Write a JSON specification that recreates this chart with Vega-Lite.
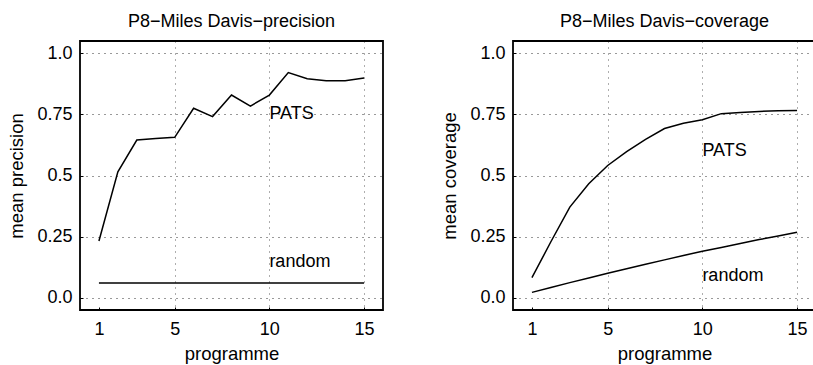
{
  "$schema": "https://vega.github.io/schema/vega-lite/v6.json",
  "padding": {"left": 7, "top": 12, "right": 0, "bottom": 2},
  "background": "white",
  "bounds": "flush",
  "spacing": 130,
  "config": {
    "font": "Liberation Sans",
    "view": {"stroke": "black", "strokeWidth": 1.8},
    "axis": {
      "labelFont": "Liberation Sans", "labelFontSize": 18, "labelColor": "black",
      "titleFont": "Liberation Sans", "titleFontSize": 18.5, "titleFontWeight": "normal", "titleColor": "black",
      "domain": false, "ticks": true, "tickSize": -3, "tickColor": "black", "tickWidth": 1,
      "grid": true, "gridDash": [1, 5], "gridColor": "black", "gridWidth": 1, "gridOpacity": 0.8
    },
    "title": {"font": "Liberation Sans", "fontSize": 18, "fontWeight": "normal", "color": "black", "offset": 10}
  },
  "datasets": {
    "prec": [
      {"programme": 1, "value": 0.232, "series": "PATS"},
      {"programme": 2, "value": 0.515, "series": "PATS"},
      {"programme": 3, "value": 0.645, "series": "PATS"},
      {"programme": 4, "value": 0.651, "series": "PATS"},
      {"programme": 5, "value": 0.656, "series": "PATS"},
      {"programme": 6, "value": 0.775, "series": "PATS"},
      {"programme": 7, "value": 0.741, "series": "PATS"},
      {"programme": 8, "value": 0.829, "series": "PATS"},
      {"programme": 9, "value": 0.784, "series": "PATS"},
      {"programme": 10, "value": 0.829, "series": "PATS"},
      {"programme": 11, "value": 0.921, "series": "PATS"},
      {"programme": 12, "value": 0.896, "series": "PATS"},
      {"programme": 13, "value": 0.887, "series": "PATS"},
      {"programme": 14, "value": 0.887, "series": "PATS"},
      {"programme": 15, "value": 0.899, "series": "PATS"},
      {"programme": 1, "value": 0.06, "series": "random"},
      {"programme": 2, "value": 0.06, "series": "random"},
      {"programme": 3, "value": 0.06, "series": "random"},
      {"programme": 4, "value": 0.06, "series": "random"},
      {"programme": 5, "value": 0.06, "series": "random"},
      {"programme": 6, "value": 0.06, "series": "random"},
      {"programme": 7, "value": 0.06, "series": "random"},
      {"programme": 8, "value": 0.06, "series": "random"},
      {"programme": 9, "value": 0.06, "series": "random"},
      {"programme": 10, "value": 0.06, "series": "random"},
      {"programme": 11, "value": 0.06, "series": "random"},
      {"programme": 12, "value": 0.06, "series": "random"},
      {"programme": 13, "value": 0.06, "series": "random"},
      {"programme": 14, "value": 0.06, "series": "random"},
      {"programme": 15, "value": 0.06, "series": "random"}
    ],
    "cov": [
      {"programme": 1, "value": 0.082, "series": "PATS"},
      {"programme": 2, "value": 0.229, "series": "PATS"},
      {"programme": 3, "value": 0.371, "series": "PATS"},
      {"programme": 4, "value": 0.466, "series": "PATS"},
      {"programme": 5, "value": 0.541, "series": "PATS"},
      {"programme": 6, "value": 0.598, "series": "PATS"},
      {"programme": 7, "value": 0.648, "series": "PATS"},
      {"programme": 8, "value": 0.692, "series": "PATS"},
      {"programme": 9, "value": 0.714, "series": "PATS"},
      {"programme": 10, "value": 0.728, "series": "PATS"},
      {"programme": 11, "value": 0.753, "series": "PATS"},
      {"programme": 12, "value": 0.758, "series": "PATS"},
      {"programme": 13, "value": 0.762, "series": "PATS"},
      {"programme": 14, "value": 0.765, "series": "PATS"},
      {"programme": 15, "value": 0.766, "series": "PATS"},
      {"programme": 1, "value": 0.022, "series": "random"},
      {"programme": 2, "value": 0.042, "series": "random"},
      {"programme": 3, "value": 0.062, "series": "random"},
      {"programme": 4, "value": 0.081, "series": "random"},
      {"programme": 5, "value": 0.100, "series": "random"},
      {"programme": 6, "value": 0.119, "series": "random"},
      {"programme": 7, "value": 0.137, "series": "random"},
      {"programme": 8, "value": 0.155, "series": "random"},
      {"programme": 9, "value": 0.173, "series": "random"},
      {"programme": 10, "value": 0.190, "series": "random"},
      {"programme": 11, "value": 0.206, "series": "random"},
      {"programme": 12, "value": 0.222, "series": "random"},
      {"programme": 13, "value": 0.238, "series": "random"},
      {"programme": 14, "value": 0.253, "series": "random"},
      {"programme": 15, "value": 0.268, "series": "random"}
    ],
    "precLabels": [
      {"programme": 10, "value": 0.75, "label": "PATS"},
      {"programme": 10, "value": 0.145, "label": "random"}
    ],
    "covLabels": [
      {"programme": 10, "value": 0.60, "label": "PATS"},
      {"programme": 10, "value": 0.09, "label": "random"}
    ]
  },
  "hconcat": [
    {
      "title": "P8−Miles Davis−precision",
      "width": 303,
      "height": 269,
      "layer": [
        {
          "data": {"name": "prec"},
          "mark": {"type": "line", "color": "black", "strokeWidth": 1.5},
          "encoding": {
            "x": {"field": "programme", "type": "quantitative",
                  "scale": {"domain": [0, 16], "nice": false, "zero": false},
                  "axis": {"values": [1, 5, 10, 15], "title": "programme", "labelPadding": 13, "titlePadding": 6,
                           "gridOpacity": {"condition": {"test": "datum.value == 1", "value": 0}, "value": 0.8}}},
            "y": {"field": "value", "type": "quantitative",
                  "scale": {"domain": [-0.05, 1.05], "nice": false, "zero": false},
                  "axis": {"values": [0, 0.25, 0.5, 0.75, 1], "title": "mean precision", "labelPadding": 11, "titlePadding": 10,
                           "labelExpr": "datum.value == 0 ? '0.0' : datum.value == 1 ? '1.0' : datum.value == 0.5 ? '0.5' : datum.value == 0.25 ? '0.25' : '0.75'"}},
            "detail": {"field": "series"}
          }
        },
        {
          "data": {"name": "precLabels"},
          "mark": {"type": "text", "align": "left", "baseline": "middle", "font": "Liberation Sans", "fontSize": 18, "color": "black"},
          "encoding": {
            "x": {"field": "programme", "type": "quantitative"},
            "y": {"field": "value", "type": "quantitative"},
            "text": {"field": "label"}
          }
        }
      ]
    },
    {
      "title": "P8−Miles Davis−coverage",
      "width": 303,
      "height": 269,
      "layer": [
        {
          "data": {"name": "cov"},
          "mark": {"type": "line", "color": "black", "strokeWidth": 1.5},
          "encoding": {
            "x": {"field": "programme", "type": "quantitative",
                  "scale": {"domain": [0, 16], "nice": false, "zero": false},
                  "axis": {"values": [1, 5, 10, 15], "title": "programme", "labelPadding": 13, "titlePadding": 6,
                           "gridOpacity": {"condition": {"test": "datum.value == 1", "value": 0}, "value": 0.8}}},
            "y": {"field": "value", "type": "quantitative",
                  "scale": {"domain": [-0.05, 1.05], "nice": false, "zero": false},
                  "axis": {"values": [0, 0.25, 0.5, 0.75, 1], "title": "mean coverage", "labelPadding": 11, "titlePadding": 10,
                           "labelExpr": "datum.value == 0 ? '0.0' : datum.value == 1 ? '1.0' : datum.value == 0.5 ? '0.5' : datum.value == 0.25 ? '0.25' : '0.75'"}},
            "detail": {"field": "series"}
          }
        },
        {
          "data": {"name": "covLabels"},
          "mark": {"type": "text", "align": "left", "baseline": "middle", "font": "Liberation Sans", "fontSize": 18, "color": "black"},
          "encoding": {
            "x": {"field": "programme", "type": "quantitative"},
            "y": {"field": "value", "type": "quantitative"},
            "text": {"field": "label"}
          }
        }
      ]
    }
  ]
}
